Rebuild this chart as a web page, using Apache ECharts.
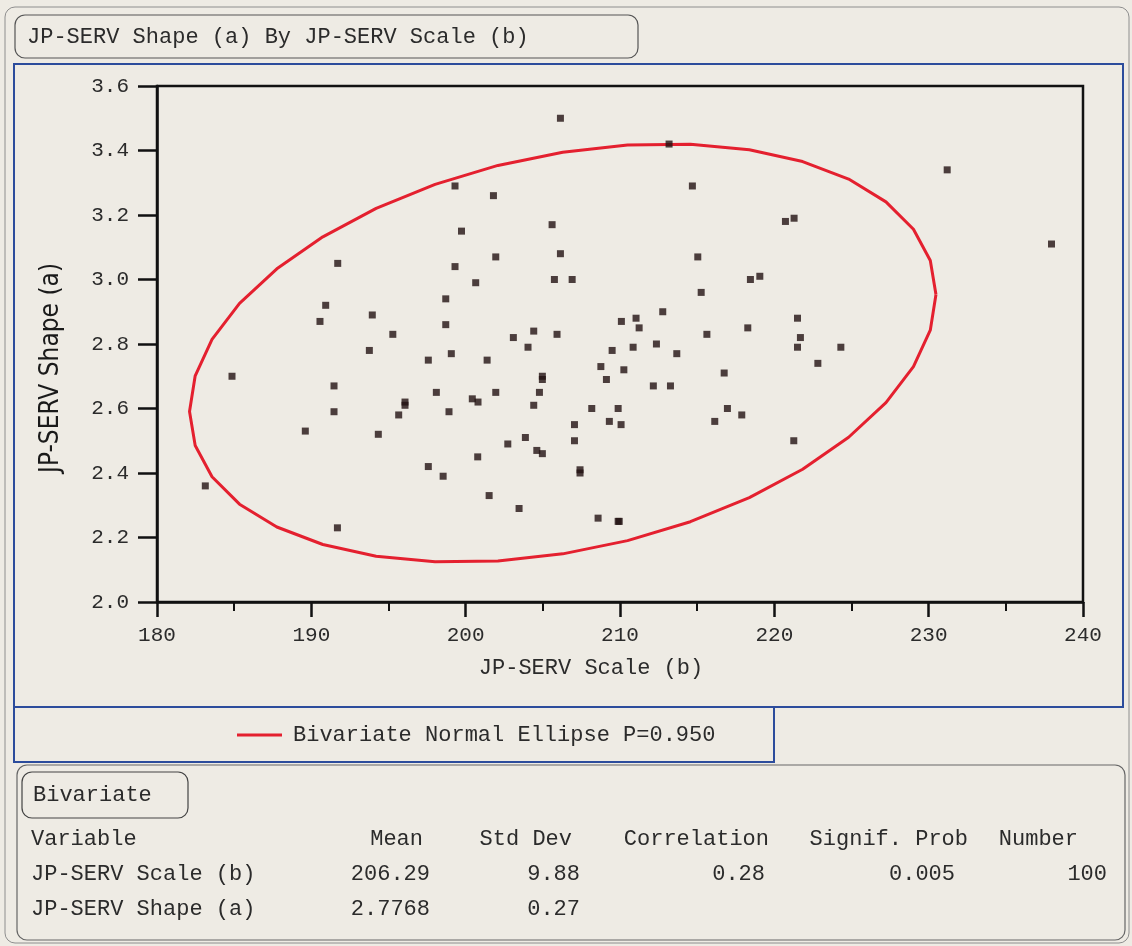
<!DOCTYPE html>
<html>
<head>
<meta charset="utf-8">
<script src="https://cdn.jsdelivr.net/npm/echarts@6/dist/echarts.min.js"></script>
<style>
html,body{margin:0;padding:0;background:#eeebe4;}
#c{width:1132px;height:946px;}
</style>
</head>
<body>
<div id="c"></div>
<script>
// ---- data ----
const scaleB = [
206.14, 213.18, 231.20, 199.31, 214.69, 201.80, 221.28, 220.72, 205.60, 199.73,
237.96, 201.95, 206.14, 215.04, 191.71, 199.31, 219.06, 218.45, 205.75, 206.90,
200.65, 215.26, 198.71, 190.93, 212.77, 193.95, 211.04, 221.50, 190.56, 210.09,
198.71, 211.24, 218.28, 204.41, 195.28, 215.63, 205.92, 203.09, 221.69, 212.36,
221.50, 210.85, 224.31, 204.04, 209.49, 193.76, 199.07, 213.68, 197.58, 201.39,
222.82, 208.76, 210.25, 216.75, 204.97, 184.86, 204.97, 209.12, 191.47, 212.16,
213.27, 198.10, 201.95, 204.78, 200.43, 200.80, 196.07, 196.07, 204.41, 208.17,
209.88, 216.96, 191.47, 198.92, 217.89, 195.66, 209.31, 216.14, 207.05, 210.07,
189.61, 194.34, 203.87, 207.05, 221.26, 202.73, 204.61, 204.97, 200.78, 197.58,
207.41, 207.41, 198.54, 183.13, 201.52, 203.46, 208.58, 209.88, 191.69, 209.95
];
const shapeA = [
3.50, 3.42, 3.34, 3.29, 3.29, 3.26, 3.19, 3.18, 3.17, 3.15,
3.11, 3.07, 3.08, 3.07, 3.05, 3.04, 3.01, 3.00, 3.00, 3.00,
2.99, 2.96, 2.94, 2.92, 2.90, 2.89, 2.88, 2.88, 2.87, 2.87,
2.86, 2.85, 2.85, 2.84, 2.83, 2.83, 2.83, 2.82, 2.82, 2.80,
2.79, 2.79, 2.79, 2.79, 2.78, 2.78, 2.77, 2.77, 2.75, 2.75,
2.74, 2.73, 2.72, 2.71, 2.70, 2.70, 2.69, 2.69, 2.67, 2.67,
2.67, 2.65, 2.65, 2.65, 2.63, 2.62, 2.62, 2.61, 2.61, 2.60,
2.60, 2.60, 2.59, 2.59, 2.58, 2.58, 2.56, 2.56, 2.55, 2.55,
2.53, 2.52, 2.51, 2.50, 2.50, 2.49, 2.47, 2.46, 2.45, 2.42,
2.41, 2.40, 2.39, 2.36, 2.33, 2.29, 2.26, 2.25, 2.23, 2.25
];

// Bivariate summary table
const tableHeaders = ['Variable', 'Mean', 'Std Dev', 'Correlation', 'Signif. Prob', 'Number'];
const variableNames = ['JP-SERV Scale (b)', 'JP-SERV Shape (a)'];
const means = ['206.29', '2.7768'];
const stdDevs = ['9.88', '0.27'];
const correlation = '0.28';
const signifProb = '0.005';
const numberObs = '100';

// Ellipse: centre and spread, 95% chi-square(2) quantile
const ellipseP = 0.950;
const chi2_95 = 5.991;
const ellipseCenter = [206.29, 2.772];
const ellipseSd = [9.88, 0.265];

// axis ticks
const xTicks = { min: 180, max: 240, interval: 10 };
const yTicks = { min: 2.0, max: 3.6, interval: 0.2 };

// ---- build ----
const mx = ellipseCenter[0], my = ellipseCenter[1];
const sx = ellipseSd[0], sy = ellipseSd[1];
const r = parseFloat(correlation);
const k = Math.sqrt(chi2_95);
const nSeg = 36;
const ellipse = [];
for (let i = 0; i <= nSeg; i++) {
  const t = 2 * Math.PI * i / nSeg;
  ellipse.push([mx + k * sx * Math.cos(t),
                my + k * sy * (r * Math.cos(t) + Math.sqrt(1 - r * r) * Math.sin(t))]);
}
const points = scaleB.map((v, i) => [v, shapeA[i]]);

const MONO = "'Liberation Mono', 'DejaVu Sans Mono', monospace";
const TXT = '#2b2b2b';
const BLUE = '#2c4c9c';
const legendName = 'Bivariate Normal Ellipse P=' + ellipseP.toFixed(3);

const graphics = [
  // outer frame
  { type: 'rect', shape: { x: 5, y: 7, width: 1124, height: 936, r: 10 }, style: { fill: 'none', stroke: '#8e8e8e', lineWidth: 1 }, silent: true },
  // title box
  { type: 'rect', shape: { x: 15, y: 15, width: 623, height: 43, r: 10 }, style: { fill: 'none', stroke: '#555', lineWidth: 1.2 } },
  { type: 'text', style: { text: 'JP-SERV Shape (a) By JP-SERV Scale (b)', x: 27, y: 37, fontFamily: MONO, fontSize: 22, fill: TXT, verticalAlign: 'middle' } },
  // blue plot frame
  { type: 'rect', shape: { x: 14, y: 64, width: 1109, height: 643 }, style: { fill: 'none', stroke: BLUE, lineWidth: 2 } },
  // legend box
  { type: 'rect', shape: { x: 14, y: 707, width: 760, height: 55 }, style: { fill: 'none', stroke: BLUE, lineWidth: 2 } },
  // axis titles
  { type: 'text', style: { text: 'JP-SERV Scale (b)', x: 591, y: 668, fontFamily: MONO, fontSize: 22, fill: TXT, align: 'center', verticalAlign: 'middle' } },
  { type: 'text', rotation: Math.PI / 2, x: 51, y: 368, style: { text: 'JP-SERV Shape (a)', x: 0, y: 0, fontFamily: "'Liberation Sans Narrow', 'DejaVu Sans Condensed', sans-serif", fontSize: 26, fill: '#1a1a1a', align: 'center', verticalAlign: 'middle' } },
  // table box
  { type: 'rect', shape: { x: 17, y: 765, width: 1108, height: 175, r: 10 }, style: { fill: 'none', stroke: '#666', lineWidth: 1.2 } },
  { type: 'rect', shape: { x: 22, y: 772, width: 166, height: 46, r: 10 }, style: { fill: 'none', stroke: '#444', lineWidth: 1.2 } },
  { type: 'text', style: { text: 'Bivariate', x: 33, y: 795, fontFamily: MONO, fontSize: 22, fill: TXT, verticalAlign: 'middle' } }
];

const headerRight = [null, 423, 572, 769, 968, 1078];
const rowY = [874, 909];
graphics.push({ type: 'text', style: { text: tableHeaders[0], x: 31, y: 839, fontFamily: MONO, fontSize: 22, fill: TXT, verticalAlign: 'middle' } });
for (let i = 1; i < tableHeaders.length; i++) {
  graphics.push({ type: 'text', style: { text: tableHeaders[i], x: headerRight[i], y: 839, fontFamily: MONO, fontSize: 22, fill: TXT, align: 'right', verticalAlign: 'middle' } });
}
const rowCells = [
  [[variableNames[0], 31, 'left'], [means[0], 430, 'right'], [stdDevs[0], 580, 'right'], [correlation, 765, 'right'], [signifProb, 955, 'right'], [numberObs, 1107, 'right']],
  [[variableNames[1], 31, 'left'], [means[1], 430, 'right'], [stdDevs[1], 580, 'right']]
];
rowCells.forEach((row, ri) => row.forEach(c => {
  graphics.push({ type: 'text', style: { text: c[0], x: c[1], y: rowY[ri], fontFamily: MONO, fontSize: 22, fill: TXT, align: c[2], verticalAlign: 'middle' } });
}));

const chart = echarts.init(document.getElementById('c'), null, { renderer: 'canvas' });
chart.setOption({
  backgroundColor: '#eeebe4',
  animation: false,
  grid: { left: 157, top: 86, width: 926, height: 516, show: true, borderColor: '#111', borderWidth: 2.5, backgroundColor: 'transparent', containLabel: false },
  legend: {
    data: [legendName], left: 232, top: 719, itemWidth: 45, itemHeight: 3, icon: 'rect',
    textStyle: { fontFamily: MONO, fontSize: 22, color: TXT, padding: [0, 0, 0, 6] }
  },
  xAxis: {
    type: 'value', min: xTicks.min, max: xTicks.max, interval: xTicks.interval,
    axisLine: { show: true, lineStyle: { color: '#111', width: 2.5 } },
    axisTick: { show: true, inside: false, length: 15, lineStyle: { color: '#111', width: 2.5 } },
    minorTick: { show: true, splitNumber: 2, length: 9, lineStyle: { color: '#111', width: 2 } },
    splitLine: { show: false },
    axisLabel: { margin: 23, fontFamily: MONO, fontSize: 21, color: TXT }
  },
  yAxis: {
    type: 'value', min: yTicks.min, max: yTicks.max, interval: yTicks.interval,
    axisLine: { show: true, lineStyle: { color: '#111', width: 2.5 } },
    axisTick: { show: true, inside: false, length: 19, lineStyle: { color: '#111', width: 2.5 } },
    splitLine: { show: false },
    axisLabel: { margin: 28, fontFamily: MONO, fontSize: 21, color: TXT, formatter: v => v.toFixed(1) }
  },
  series: [
    { name: 'points', type: 'scatter', data: points, symbol: 'rect', symbolSize: 7, itemStyle: { color: '#221212' }, z: 3 },
    { name: legendName, type: 'line', data: ellipse, showSymbol: false, symbol: 'none', smooth: false,
      lineStyle: { color: '#e4202f', width: 3 }, itemStyle: { color: '#e4202f' }, z: 2 }
  ],
  graphic: graphics
});
</script>
</body>
</html>
